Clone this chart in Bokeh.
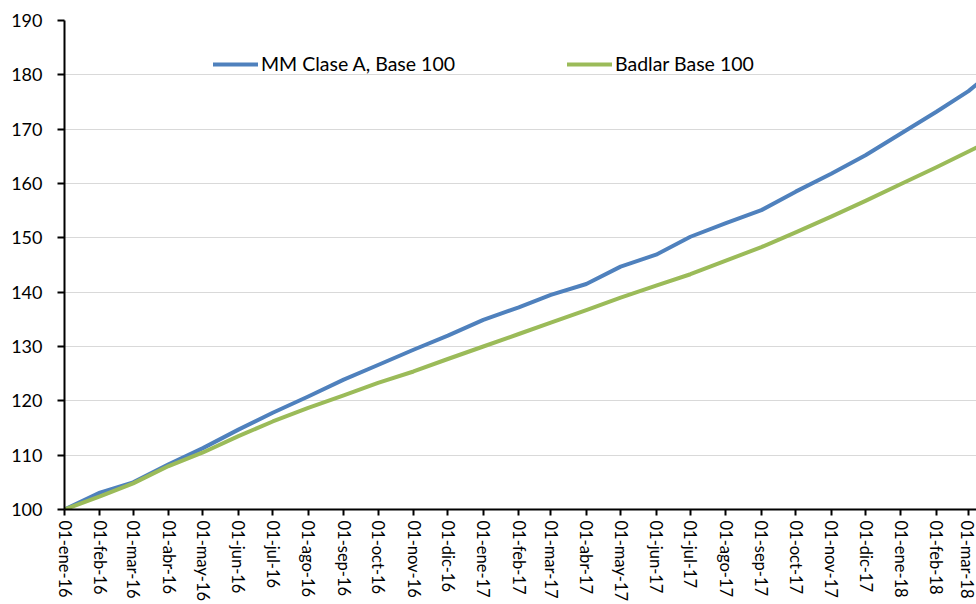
import pandas as pd
from bokeh.plotting import figure
from bokeh.models import FixedTicker, Legend, LegendItem, Range1d
from bokeh.embed import file_html
from bokeh.resources import INLINE

dates = ["2016-01-01", "2016-02-01", "2016-03-01", "2016-04-01", "2016-05-01", "2016-06-01",
         "2016-07-01", "2016-08-01", "2016-09-01", "2016-10-01", "2016-11-01", "2016-12-01",
         "2017-01-01", "2017-02-01", "2017-03-01", "2017-04-01", "2017-05-01", "2017-06-01",
         "2017-07-01", "2017-08-01", "2017-09-01", "2017-10-01", "2017-11-01", "2017-12-01",
         "2018-01-01", "2018-02-01", "2018-03-01", "2018-03-08"]
tick_labels = ["01-ene-16", "01-feb-16", "01-mar-16", "01-abr-16", "01-may-16", "01-jun-16",
               "01-jul-16", "01-ago-16", "01-sep-16", "01-oct-16", "01-nov-16", "01-dic-16",
               "01-ene-17", "01-feb-17", "01-mar-17", "01-abr-17", "01-may-17", "01-jun-17",
               "01-jul-17", "01-ago-17", "01-sep-17", "01-oct-17", "01-nov-17", "01-dic-17",
               "01-ene-18", "01-feb-18", "01-mar-18"]
mm_clase_a = [100.0, 103.1, 105.0, 108.3, 111.3, 114.7, 117.8, 120.8, 123.9, 126.6, 129.4, 132.0,
              134.9, 137.2, 139.5, 141.5, 144.7, 146.9, 150.2, 152.7, 155.1, 158.5, 161.8, 165.2,
              169.2, 173.2, 177.0, 178.2]
badlar = [100.0, 102.4, 104.8, 108.0, 110.5, 113.5, 116.2, 118.7, 121.0, 123.3, 125.4, 127.7,
          130.0, 132.3, 134.4, 136.7, 139.0, 141.2, 143.3, 145.8, 148.3, 151.0, 153.9, 156.8,
          159.9, 163.0, 165.9, 166.6]
y_ticks = [100, 110, 120, 130, 140, 150, 160, 170, 180, 190]

start = pd.Timestamp(dates[0])
days = [int((pd.Timestamp(d) - start).days) for d in dates]
tick_days = days[:len(tick_labels)]

FONT = "Lato"

p = figure(width=976, height=604, output_backend="svg", toolbar_location=None,
           x_range=Range1d(days[0], days[-1]), y_range=Range1d(y_ticks[0], y_ticks[-1]),
           min_border_left=64, min_border_right=0, min_border_top=20, min_border_bottom=94,
           outline_line_color=None)

blue = "#4F81BD"
green = "#9BBB59"

r1 = p.line(days, mm_clase_a, line_color=blue, line_width=4, line_join="round", line_cap="round")
r2 = p.line(days, badlar, line_color=green, line_width=4, line_join="round", line_cap="round")

p.xaxis.ticker = FixedTicker(ticks=tick_days)
p.xaxis.major_label_overrides = {d: l for d, l in zip(tick_days, tick_labels)}
p.xaxis.major_label_orientation = "vertical"
p.yaxis.ticker = FixedTicker(ticks=y_ticks)

for ax in (p.xaxis, p.yaxis):
    ax.axis_line_color = "black"
    ax.axis_line_width = 2
    ax.major_tick_line_color = "black"
    ax.major_tick_line_width = 2
    ax.major_tick_in = 0
    ax.minor_tick_line_color = None
    ax.major_label_text_font = FONT
    ax.major_label_text_color = "black"

p.yaxis.major_tick_out = 7
p.yaxis.major_label_standoff = 15
p.yaxis.major_label_text_font_size = "18px"
p.xaxis.major_tick_out = 6
p.xaxis.major_label_standoff = 5
p.xaxis.major_label_text_font_size = "16.5px"

p.xgrid.grid_line_color = None
p.ygrid.grid_line_color = "#d9d9d9"
p.ygrid.grid_line_width = 1

def make_legend(label, renderer, loc):
    leg = Legend(items=[LegendItem(label=label, renderers=[renderer])], location=loc,
                 orientation="horizontal", border_line_color=None, background_fill_alpha=0,
                 padding=0, margin=0, glyph_width=45, glyph_height=20, label_standoff=3,
                 label_text_font=FONT, label_text_font_size="19.5px", label_text_color="black")
    return leg

p.add_layout(make_legend("MM Clase A, Base 100", r1, (149, 434)))
p.add_layout(make_legend("Badlar Base 100", r2, (503, 434)))

open("out.html", "w").write(file_html(p, INLINE))
